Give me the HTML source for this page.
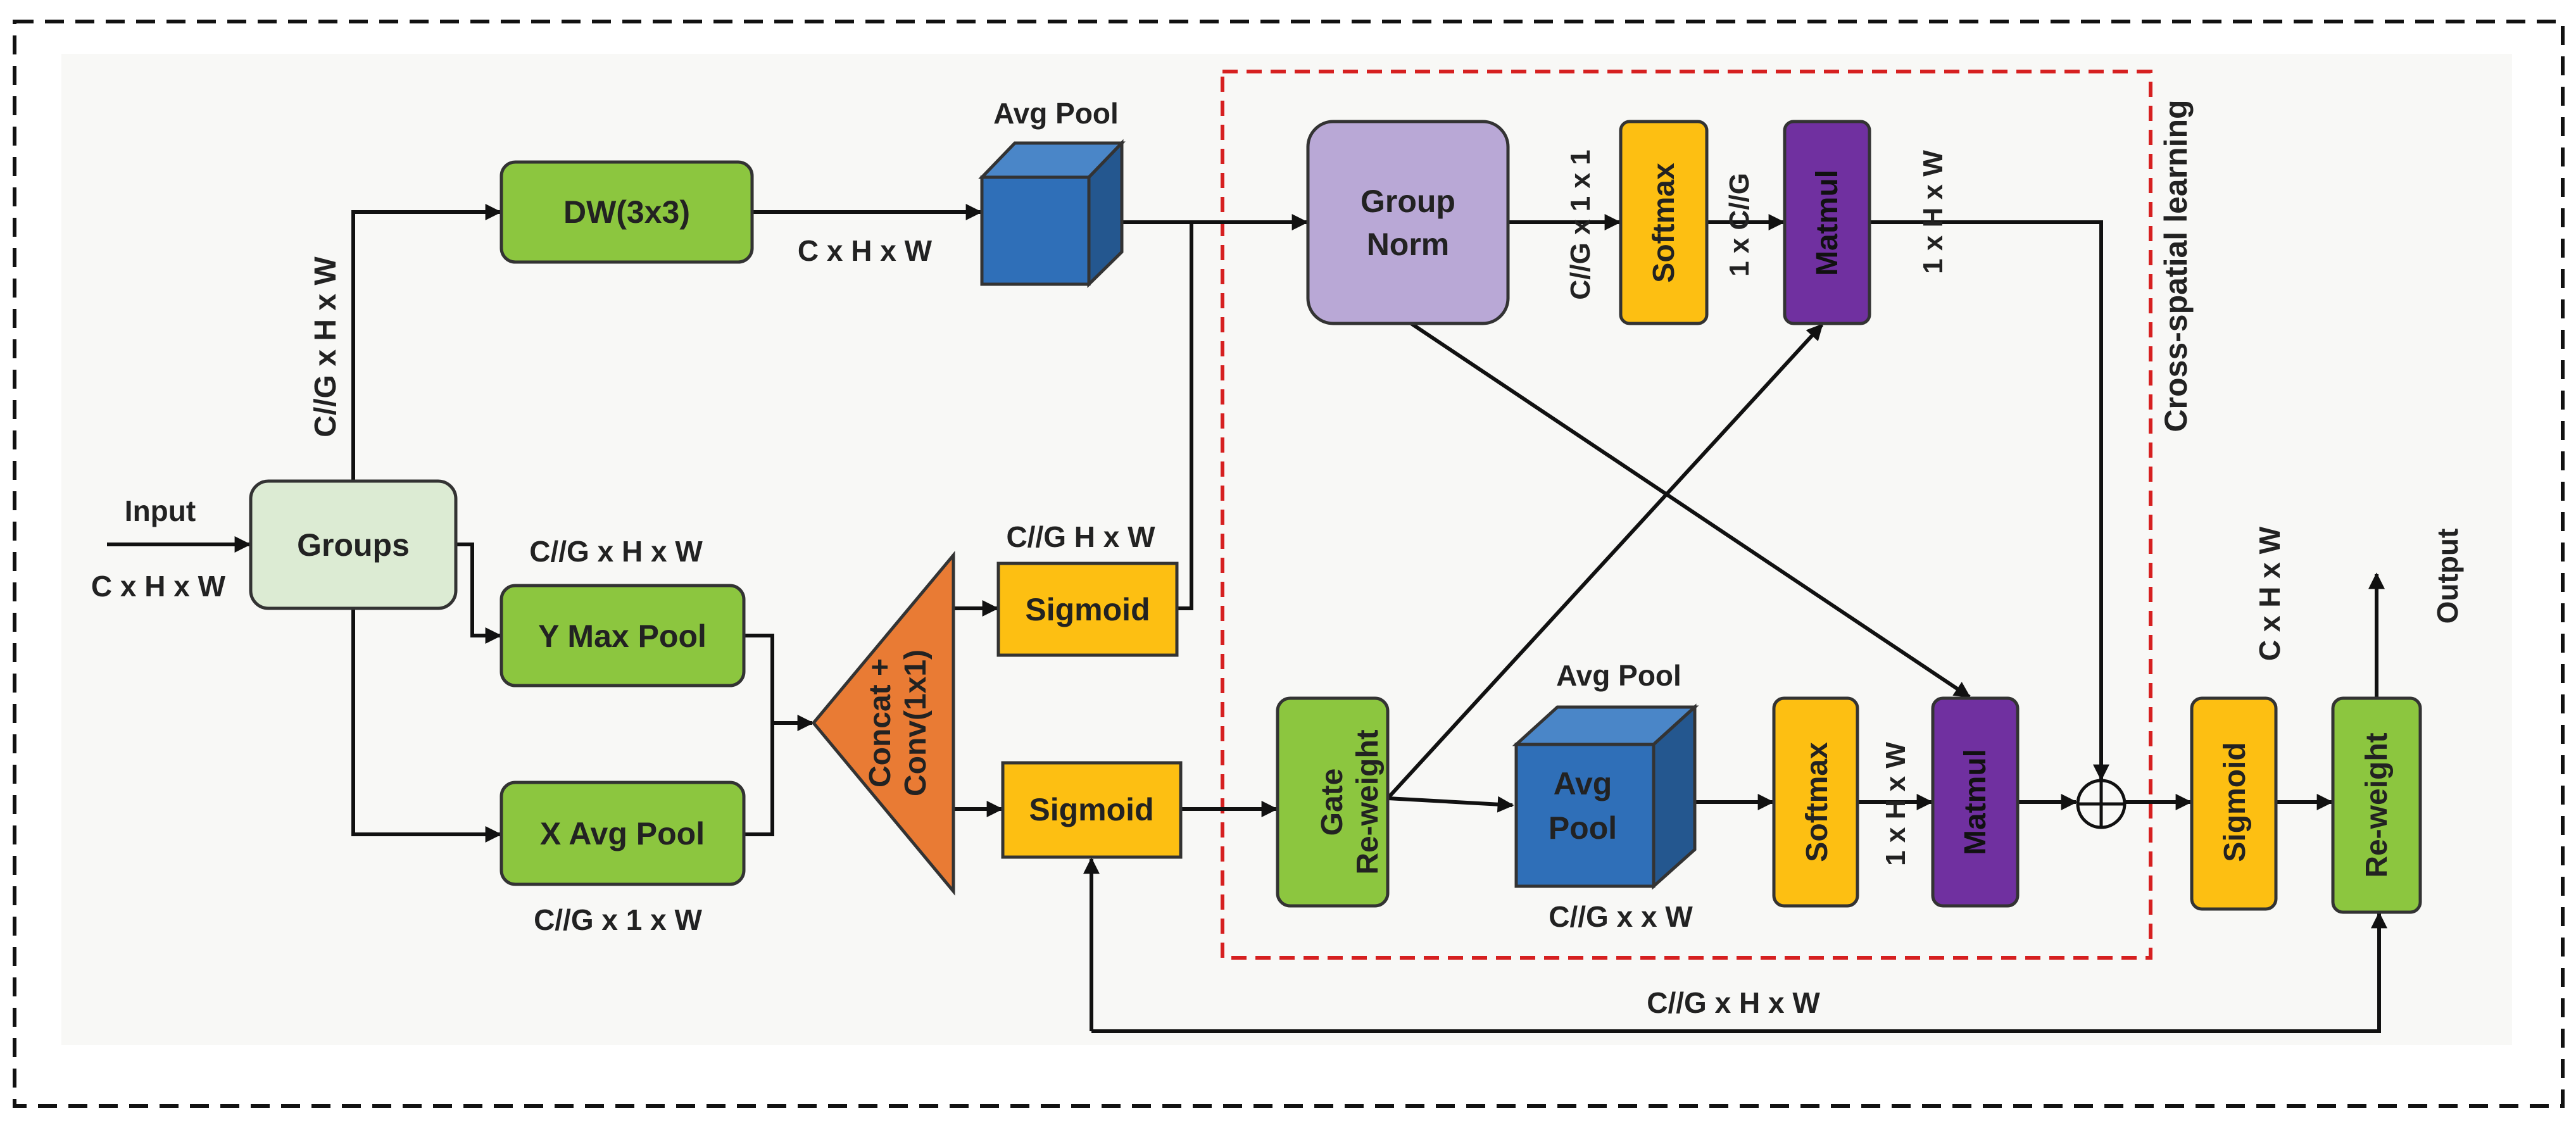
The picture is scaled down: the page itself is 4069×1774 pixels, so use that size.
<!DOCTYPE html>
<html><head><meta charset="utf-8"><style>
html,body{margin:0;padding:0;background:#fff}
svg{display:block}
text{font-family:"Liberation Sans",Arial,sans-serif;font-weight:bold;fill:#222}
</style></head><body>
<svg width="4069" height="1774" viewBox="0 0 4069 1774" xmlns="http://www.w3.org/2000/svg">
<defs>
<marker id="A" viewBox="0 0 10 10" refX="9" refY="5" markerWidth="30" markerHeight="26" orient="auto" markerUnits="userSpaceOnUse"><path d="M0,0 L10,5 L0,10 z" fill="#111"/></marker>
</defs>
<rect x="0" y="0" width="4069" height="1774" fill="#fff"/>
<rect x="97" y="85" width="3871" height="1566" fill="#f8f8f6"/>
<rect x="23" y="34" width="4025" height="1713" fill="none" stroke="#111" stroke-width="6" stroke-dasharray="30,18"/>
<rect x="1931" y="113" width="1466" height="1400" fill="none" stroke="#d62020" stroke-width="6" stroke-dasharray="24,14"/>

<g stroke="#111" stroke-width="6" fill="none">
<line x1="169" y1="860" x2="394" y2="860" marker-end="url(#A)"/>
<polyline points="558,760 558,335 790,335" marker-end="url(#A)"/>
<polyline points="720,860 746,860 746,1004 790,1004" marker-end="url(#A)"/>
<polyline points="558,961 558,1318 790,1318" marker-end="url(#A)"/>
<line x1="1188" y1="335" x2="1549" y2="335" marker-end="url(#A)"/>
<polyline points="1175,1004 1220,1004 1220,1318 1175,1318"/>
<line x1="1220" y1="1142" x2="1283" y2="1142" marker-end="url(#A)"/>
<line x1="1506" y1="961" x2="1575" y2="961" marker-end="url(#A)"/>
<line x1="1506" y1="1278" x2="1582" y2="1278" marker-end="url(#A)"/>
<polyline points="1859,961 1882,961 1882,351"/>
<line x1="1772" y1="351" x2="2064" y2="351" marker-end="url(#A)"/>
<line x1="1865" y1="1278" x2="2016" y2="1278" marker-end="url(#A)"/>
<line x1="2382" y1="351" x2="2558" y2="351" marker-end="url(#A)"/>
<line x1="2696" y1="351" x2="2817" y2="351" marker-end="url(#A)"/>
<polyline points="2953,351 3319,351 3319,1231" marker-end="url(#A)"/>
<line x1="2229" y1="511" x2="3111" y2="1101" marker-end="url(#A)"/>
<line x1="2192" y1="1261" x2="2878" y2="513" marker-end="url(#A)"/>
<line x1="2192" y1="1261" x2="2389" y2="1272" marker-end="url(#A)"/>
<line x1="2677" y1="1267" x2="2800" y2="1267" marker-end="url(#A)"/>
<line x1="2934" y1="1267" x2="3051" y2="1267" marker-end="url(#A)"/>
<line x1="3187" y1="1267" x2="3279" y2="1267" marker-end="url(#A)"/>
<line x1="3357" y1="1267" x2="3460" y2="1267" marker-end="url(#A)"/>
<line x1="3595" y1="1267" x2="3683" y2="1267" marker-end="url(#A)"/>
<line x1="3754" y1="1103" x2="3754" y2="907" marker-end="url(#A)"/>
<polyline points="1724,1629 3758,1629 3758,1443" marker-end="url(#A)"/>
<line x1="1724" y1="1629" x2="1724" y2="1357" marker-end="url(#A)"/>
</g>

<g stroke="#333" stroke-width="5">
<rect x="792" y="256" width="396" height="158" rx="22" fill="#8cc63f"/>
<rect x="396" y="760" width="324" height="201" rx="28" fill="#dcebd3"/>
<rect x="792" y="925" width="383" height="158" rx="22" fill="#8cc63f"/>
<rect x="792" y="1236" width="383" height="161" rx="22" fill="#8cc63f"/>
<polygon points="1285,1142 1506,877 1506,1408" fill="#e97b34"/>
<rect x="1577" y="890" width="282" height="145" fill="#fdbf12"/>
<rect x="1584" y="1205" width="281" height="149" fill="#fdbf12"/>
<rect x="2066" y="192" width="316" height="319" rx="40" fill="#b9a8d6"/>
<rect x="2560" y="192" width="136" height="319" rx="14" fill="#fdbf12"/>
<rect x="2819" y="192" width="134" height="319" rx="14" fill="#7030a0"/>
<rect x="2018" y="1103" width="174" height="328" rx="20" fill="#8cc63f"/>
<rect x="2802" y="1103" width="132" height="328" rx="16" fill="#fdbf12"/>
<rect x="3053" y="1103" width="134" height="328" rx="16" fill="#7030a0"/>
<rect x="3462" y="1103" width="133" height="333" rx="16" fill="#fdbf12"/>
<rect x="3685" y="1103" width="138" height="338" rx="16" fill="#8cc63f"/>
<polygon points="1551,280 1603,226 1772,226 1720,280" fill="#4a86c8"/>
<polygon points="1720,280 1772,226 1772,398 1720,449" fill="#24578f"/>
<rect x="1551" y="280" width="169" height="169" fill="#2f6fb8"/>
<polygon points="2395,1176 2460,1117 2677,1117 2612,1176" fill="#4a86c8"/>
<polygon points="2612,1176 2677,1117 2677,1342 2612,1400" fill="#24578f"/>
<rect x="2395" y="1176" width="217" height="224" fill="#2f6fb8"/>
<circle cx="3319" cy="1270" r="37" fill="none" stroke="#111" stroke-width="5"/>
<line x1="3282" y1="1270" x2="3356" y2="1270" stroke="#111"/>
<line x1="3319" y1="1233" x2="3319" y2="1307" stroke="#111"/>
</g>

<g font-size="50" text-anchor="middle">
<text x="990" y="352">DW(3x3)</text>
<text x="558" y="878">Groups</text>
<text x="983" y="1022">Y Max Pool</text>
<text x="983" y="1334">X Avg Pool</text>
<text x="1718" y="980">Sigmoid</text>
<text x="1724" y="1296">Sigmoid</text>
<text x="2224" y="335">Group</text>
<text x="2224" y="403">Norm</text>
<text x="2500" y="1255">Avg</text>
<text x="2500" y="1325">Pool</text>
<text x="1668" y="195" font-size="46">Avg Pool</text>
<text x="2557" y="1083" font-size="46">Avg Pool</text>
<text x="1366" y="412" font-size="46">C x H x W</text>
<text x="253" y="823" font-size="46">Input</text>
<text x="250" y="942" font-size="46">C x H x W</text>
<text x="973" y="887" font-size="46">C//G x H x W</text>
<text x="976" y="1469" font-size="46">C//G x 1 x W</text>
<text x="1707" y="864" font-size="46">C//G H x W</text>
<text x="2560" y="1464" font-size="46">C//G x x W</text>
<text x="2738" y="1600" font-size="46">C//G x H x W</text>
</g>
<g font-size="48" text-anchor="middle">
<text transform="translate(530,548) rotate(-90)">C//G x H x W</text>
<text transform="translate(1406,1142) rotate(-90)">Concat +</text>
<text transform="translate(1462,1142) rotate(-90)">Conv(1x1)</text>
<text transform="translate(2644,352) rotate(-90)">Softmax</text>
<text transform="translate(2902,352) rotate(-90)" style="fill:#111">Matmul</text>
<text transform="translate(2120,1267) rotate(-90)">Gate</text>
<text transform="translate(2176,1267) rotate(-90)">Re-weight</text>
<text transform="translate(2886,1267) rotate(-90)">Softmax</text>
<text transform="translate(3136,1267) rotate(-90)" style="fill:#111">Matmul</text>
<text transform="translate(3546,1267) rotate(-90)">Sigmoid</text>
<text transform="translate(3770,1272) rotate(-90)">Re-weight</text>
<text transform="translate(2511,355) rotate(-90)" font-size="44">C//G x 1 x 1</text>
<text transform="translate(2762,355) rotate(-90)" font-size="44">1 x C//G</text>
<text transform="translate(3068,335) rotate(-90)" font-size="44">1 x H x W</text>
<text transform="translate(3009,1270) rotate(-90)" font-size="44">1 x H x W</text>
<text transform="translate(3601,938) rotate(-90)" font-size="46">C x H x W</text>
<text transform="translate(3882,910) rotate(-90)" font-size="46">Output</text>
<text transform="translate(3454,420) rotate(-90)" font-size="50">Cross-spatial learning</text>
</g>
</svg>
</body></html>
